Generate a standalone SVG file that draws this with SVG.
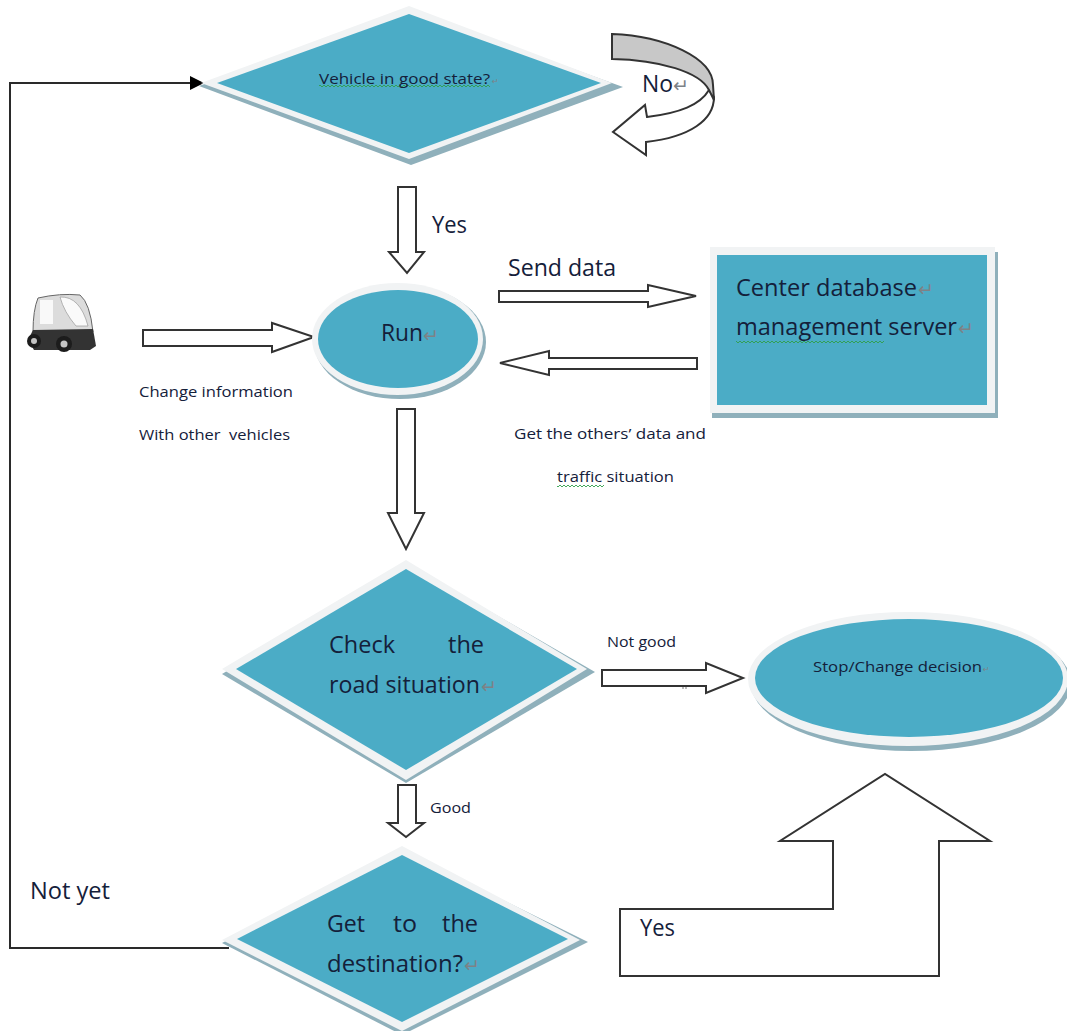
<svg xmlns="http://www.w3.org/2000/svg" width="1067" height="1031" viewBox="0 0 1067 1031">
<style>
text{font-family:"Open Sans","Noto Sans","Liberation Sans",sans-serif;fill:#14203a}
.ret{font-family:"DejaVu Sans",sans-serif;fill:#7d8287}
.shadow{fill:#8fb0bb}.outer{fill:#f1f3f4}.fill{fill:#4bacc6}
.block{fill:#fff;stroke:#333;stroke-width:2;stroke-linejoin:miter}
.line{fill:none;stroke:#2a2a2a;stroke-width:2}
.s16{font-size:15px}.s24{font-size:23px}
</style>
<defs>
<pattern id="sq" width="4" height="4" patternUnits="userSpaceOnUse"><path d="M0,1 L2,3 L4,1" fill="none" stroke="#2f9e4a" stroke-width="0.9"/></pattern>
<marker id="tip" markerWidth="14" markerHeight="14" refX="13" refY="7" orient="auto" markerUnits="userSpaceOnUse"><path d="M0,0 L14,7 L0,14 Z" fill="#000"/></marker>
</defs>
<rect width="1067" height="1031" fill="#fff"/>

<g id="connectors">
<path class="line" d="M229,948 H10 V83 H203" marker-end="url(#tip)"/>
<polygon class="block" points="398,187 416,187 416,252 424,252 407,273 389,252 398,252"/>
<polygon class="block" points="143,330 272,330 272,323 314,337 272,352 272,346 143,346"/>
<polygon class="block" points="499,291 648,291 648,285 696,296 648,307 648,302 499,302"/>
<polygon class="block" points="697,358 549,358 549,351 500,363 549,375 549,369 697,369"/>
<polygon class="block" points="397,409 415,409 415,513 424,513 406,549 388,513 397,513"/>
<polygon class="block" points="602,670 706,670 706,663 743,678 706,693 706,686 602,686"/>
<path d="M683,687v2M686,687v2" stroke="#777" stroke-width="1"/>
<polygon class="block" points="398,785 416,785 416,823 424,823 406,837 388,823 398,823"/>
<polygon class="block" points="620,909 833,909 833,841 780,841 885,774 990,841 939,841 939,976 620,976"/>
<path class="block" d="M709,90 C700,105 680,113 647,117 L645,105 L613,132 L646,155 L646,142 C690,137 714,120 714,97 Z"/>
<path d="M612,34 C665,36 713,58 713,85 L714,100 L709,90 C700,72 660,60 612,59 Z" fill="#c8c8c8" stroke="#333" stroke-width="2"/>
</g>

<g id="node-vehicle-state">
<polygon class="shadow" points="199,86 411,10 623,87 411,165"/>
<polygon class="outer" points="201,83 409,6 612,83 409,159"/>
<polygon class="fill" points="217,83 409,14 601,83 409,153"/>
<rect x="319" y="84" width="171" height="4" fill="url(#sq)"/>
<text class="s16" x="319" y="84" textLength="171" lengthAdjust="spacingAndGlyphs">Vehicle in good state?</text>
<text class="ret" x="492" y="84" font-size="8">↵</text>
</g>

<g id="node-run">
<ellipse class="shadow" cx="400" cy="342" rx="86" ry="57"/>
<ellipse class="outer" cx="397.5" cy="339" rx="85.5" ry="56"/>
<ellipse class="fill" cx="398" cy="339" rx="80" ry="49"/>
<text class="s24" x="381" y="341" textLength="42" lengthAdjust="spacingAndGlyphs">Run</text>
<text class="ret" x="423" y="342" font-size="19">↵</text>
</g>

<g id="node-server">
<rect class="shadow" x="712" y="252" width="286" height="166"/>
<rect class="outer" x="710" y="247" width="285" height="166"/>
<rect class="fill" x="717" y="255" width="270" height="150"/>
<rect x="736" y="339" width="148" height="4" fill="url(#sq)"/>
<text class="s24" x="736" y="296" textLength="181" lengthAdjust="spacingAndGlyphs">Center database</text>
<text class="ret" x="918" y="296" font-size="19">↵</text>
<text class="s24" x="736" y="335" textLength="221" lengthAdjust="spacingAndGlyphs">management server</text>
<text class="ret" x="958" y="335" font-size="19">↵</text>
</g>

<g id="node-road">
<polygon class="shadow" points="222,674 406,563 595,672 406,783"/>
<polygon class="outer" points="222,669 406,560 587,669 406,780"/>
<polygon class="fill" points="236,669 406,569 577,669 406,770"/>
<text class="s24" x="329" y="653" textLength="66" lengthAdjust="spacingAndGlyphs">Check</text>
<text class="s24" x="448" y="653" textLength="36" lengthAdjust="spacingAndGlyphs">the</text>
<text class="s24" x="329" y="693" textLength="151" lengthAdjust="spacingAndGlyphs">road situation</text>
<text class="ret" x="481" y="693" font-size="19">↵</text>
</g>

<g id="node-stop">
<ellipse class="shadow" cx="911" cy="683" rx="160" ry="68"/>
<ellipse class="outer" cx="908" cy="679" rx="160" ry="67"/>
<ellipse class="fill" cx="909" cy="678" rx="154" ry="59"/>
<text class="s16" x="813" y="672" textLength="169" lengthAdjust="spacingAndGlyphs">Stop/Change decision</text>
<text class="ret" x="983" y="672" font-size="8">↵</text>
</g>

<g id="node-destination">
<polygon class="shadow" points="222,943 402,850 588,942 402,1035"/>
<polygon class="outer" points="222,940 402,846 580,940 402,1031"/>
<polygon class="fill" points="237,939 402,855 568,939 402,1022"/>
<text class="s24" x="327" y="932" textLength="38" lengthAdjust="spacingAndGlyphs">Get</text>
<text class="s24" x="393" y="932" textLength="24" lengthAdjust="spacingAndGlyphs">to</text>
<text class="s24" x="442" y="932" textLength="36" lengthAdjust="spacingAndGlyphs">the</text>
<text class="s24" x="327" y="972" textLength="136" lengthAdjust="spacingAndGlyphs">destination?</text>
<text class="ret" x="464" y="972" font-size="19">↵</text>
</g>

<g id="node-vehicle">
<path d="M38,298 Q60,293 80,295 Q90,303 93,332 L33,332 Q33,310 38,298 Z" fill="#dcdcdc" stroke="#666" stroke-width="1"/>
<rect x="40" y="300" width="13" height="24" fill="#f9f9f9"/>
<path d="M60,297 Q80,296 88,326 L76,326 Q64,312 60,297 Z" fill="#fafafa" stroke="#999" stroke-width="0.7"/>
<path d="M28,340 L33,330 L93,329 L96,346 L90,350 L34,350 Z" fill="#333"/>
<circle cx="34" cy="341" r="7" fill="#1c1c1c"/><circle cx="34" cy="341" r="3" fill="#c4c4c4"/>
<circle cx="64" cy="344" r="8" fill="#1c1c1c"/><circle cx="64" cy="344" r="3.5" fill="#c4c4c4"/>
</g>

<g id="labels">
<text class="s24" x="642" y="92" textLength="31" lengthAdjust="spacingAndGlyphs">No</text>
<text class="ret" x="673" y="92" font-size="19">↵</text>
<text class="s24" x="432" y="233" textLength="35" lengthAdjust="spacingAndGlyphs">Yes</text>
<text class="s24" x="508" y="276" textLength="108" lengthAdjust="spacingAndGlyphs">Send data</text>
<text class="s16" x="139" y="397" textLength="154" lengthAdjust="spacingAndGlyphs">Change information</text>
<text class="s16" x="139" y="440" textLength="151" lengthAdjust="spacingAndGlyphs" xml:space="preserve">With other  vehicles</text>
<text class="s16" x="514" y="439" textLength="192" lengthAdjust="spacingAndGlyphs">Get the others’ data and</text>
<rect x="557" y="484" width="47" height="4" fill="url(#sq)"/>
<text class="s16" x="557" y="482" textLength="117" lengthAdjust="spacingAndGlyphs">traffic situation</text>
<text class="s16" x="607" y="647" textLength="69" lengthAdjust="spacingAndGlyphs">Not good</text>
<text class="s16" x="430" y="813" textLength="41" lengthAdjust="spacingAndGlyphs">Good</text>
<text class="s24" x="30" y="899" textLength="80" lengthAdjust="spacingAndGlyphs">Not yet</text>
<text class="s24" x="640" y="936" textLength="35" lengthAdjust="spacingAndGlyphs">Yes</text>
</g>
</svg>
